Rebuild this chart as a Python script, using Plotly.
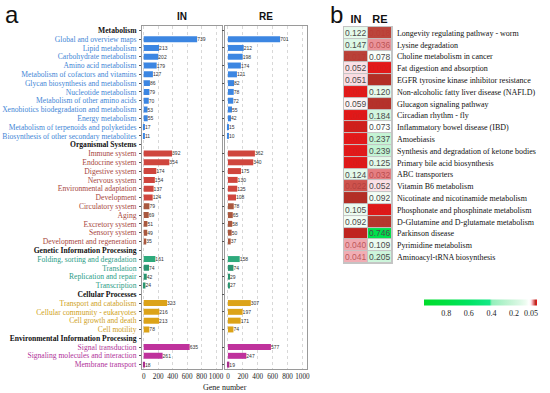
import plotly.graph_objects as go

# ---------------- Panel a data ----------------
met_terms = ["Global and overview maps", "Lipid metabolism", "Carbohydrate metabolism", "Amino acid metabolism",
             "Metabolism of cofactors and vitamins", "Glycan biosynthesis and metabolism", "Nucleotide metabolism",
             "Metabolism of other amino acids", "Xenobiotics biodegradation and metabolism", "Energy metabolism",
             "Metabolism of terpenoids and polyketides", "Biosynthesis of other secondary metabolites"]
met_in = [739, 213, 202, 179, 127, 86, 79, 70, 53, 55, 17, 11]
met_re = [701, 212, 198, 174, 121, 82, 78, 72, 55, 42, 15, 10]

org_terms = ["Immune system", "Endocrine system", "Digestive system", "Nervous system", "Environmental adaptation",
             "Development", "Circulatory system", "Aging", "Excretory system", "Sensory system",
             "Development and regeneration"]
org_in = [392, 354, 174, 154, 137, 124, 79, 69, 51, 49, 35]
org_re = [362, 340, 175, 130, 125, 108, 78, 65, 58, 50, 37]

gen_terms = ["Folding, sorting and degradation", "Translation", "Replication and repair", "Transcription"]
gen_in = [161, 74, 42, 24]
gen_re = [158, 74, 29, 27]

cel_terms = ["Transport and catabolism", "Cellular community - eukaryotes", "Cell growth and death", "Cell motility"]
cel_in = [323, 216, 213, 78]
cel_re = [307, 197, 171, 74]

env_terms = ["Signal transduction", "Signaling molecules and interaction", "Membrane transport"]
env_in = [635, 261, 18]
env_re = [577, 247, 19]

group_names = ["Metabolism", "Organismal Systems", "Genetic Information Processing",
               "Cellular Processes", "Environmental Information Processing"]

# ---------------- Panel b data ----------------
kegg_terms = ["Longevity regulating pathway - worm", "Lysine degradation", "Choline metabolism in cancer",
              "Fat digestion and absorption", "EGFR tyrosine kinase inhibitor resistance",
              "Non-alcoholic fatty liver disease (NAFLD)", "Glucagon signaling pathway", "Circadian rhythm - fly",
              "Inflammatory bowel disease (IBD)", "Amoebiasis", "Synthesis and degradation of ketone bodies",
              "Primary bile acid biosynthesis", "ABC transporters", "Vitamin B6 metabolism",
              "Nicotinate and nicotinamide metabolism", "Phosphonate and phosphinate metabolism",
              "D-Glutamine and D-glutamate metabolism", "Parkinson disease", "Pyrimidine metabolism",
              "Aminoacyl-tRNA biosynthesis"]
p_in = [0.122, 0.147, 0.017, 0.052, 0.051, 0.004, 0.059, 0.005, 0.008, 0.003,
        0.004, 0.005, 0.124, 0.022, 0.013, 0.105, 0.092, 0.010, 0.040, 0.041]
p_re = [0.018, 0.036, 0.078, 0.004, 0.013, 0.120, 0.014, 0.184, 0.073, 0.237,
        0.239, 0.125, 0.032, 0.052, 0.092, 0.006, 0.015, 0.746, 0.109, 0.205]
cb_ticks = [0.8, 0.6, 0.4, 0.2, 0.05]

# ---------------- styles ----------------
SERIF = "Liberation Serif"
SANS = "Liberation Sans"
group_text_col = ["#3f86d6", "#a84840", "#2b9c86", "#cf9f1c", "#b0339a"]
group_bar_col = ["#3c86e2", "#cf463e", "#2eaa7c", "#dca318", "#bf329c"]
small_col = ["#3472d6", "#a9583f", "#2a9470", "#d29a14", "#a8308e"]

groups = [(met_terms, met_in, met_re), (org_terms, org_in, org_re), (gen_terms, gen_in, gen_re),
          (cel_terms, cel_in, cel_re), (env_terms, env_in, env_re)]

rows, ticktext = [], []
for gi, (terms, _, _) in enumerate(groups):
    rows.append(group_names[gi])
    ticktext.append("<b>%s</b>" % group_names[gi])
    for t in terms:
        rows.append(t)
        ticktext.append('<span style="color:%s">%s</span>' % (group_text_col[gi], t))

fig = go.Figure()
for gi, (terms, vin, vre) in enumerate(groups):
    for vals, xa, ya in ((vin, "x", "y"), (vre, "x2", "y2")):
        cols = [group_bar_col[gi] if (v >= 100 or gi in (0, 3)) else small_col[gi] for v in vals]
        fig.add_trace(go.Bar(
            x=vals, y=terms, orientation="h", xaxis=xa, yaxis=ya,
            marker=dict(color=cols, line=dict(width=0)),
            text=[str(v) for v in vals], textposition="outside", constraintext="none",
            cliponaxis=False, textfont=dict(size=5, family=SANS, color="#333"),
            showlegend=False, width=0.68))

# heatmap colour scale (defined in p-value space, mapped to -p)
p_stops = [(1.0, "#00dc2c"), (0.8, "#00e042"), (0.6, "#00e462"), (0.42, "#14e886"),
           (0.40, "#92efba"), (0.25, "#c0f3d2"), (0.15, "#dcf8e5"), (0.10, "#eefcf1"),
           (0.07, "#ffffff"), (0.055, "#fdeef2"), (0.045, "#f6c2ca"), (0.035, "#e98d92"),
           (0.025, "#dd5c5a"), (0.018, "#bb463c"), (0.012, "#b02a22"), (0.006, "#e01818"),
           (0.0, "#e81a1a")]
cscale = sorted([(1 - p, c) for p, c in p_stops])

z = [[-a, -b] for a, b in zip(p_in, p_re)]
fig.add_trace(go.Heatmap(
    z=z, x=["IN", "RE"], y=kegg_terms, xaxis="x3", yaxis="y3",
    colorscale=cscale, zmin=-1, zmax=0, xgap=1, ygap=1, showscale=True, hoverinfo="skip",
    colorbar=dict(orientation="h", x=0.873, xanchor="center", y=0.219, yanchor="middle",
                  len=0.205, lenmode="fraction", thickness=6, outlinewidth=0, ticks="",
                  xpad=0, ypad=0, tickangle=0,
                  tickvals=[-t for t in cb_ticks], ticktext=[("%g" % t) for t in cb_ticks],
                  tickfont=dict(family=SERIF, size=8, color="#222"))))

annotations = []
for term, a, b in zip(kegg_terms, p_in, p_re):
    for col, p in (("IN", a), ("RE", b)):
        if p >= 0.05:
            tc = "#4a4a4a"
        elif p >= 0.02:
            tc = "rgba(170,60,60,0.75)"
        else:
            tc = "rgba(190,40,40,0.35)"
        annotations.append(dict(x=col, y=term, xref="x3", yref="y3", text="%.3f" % p, showarrow=False,
                                font=dict(family=SANS, size=8.5, color=tc)))

annotations += [
    dict(x=0.331, y=0.957, xref="paper", yref="paper", text="<b>IN</b>", showarrow=False,
         xanchor="center", yanchor="middle", font=dict(family=SANS, size=10, color="#111")),
    dict(x=0.4835, y=0.957, xref="paper", yref="paper", text="<b>RE</b>", showarrow=False,
         xanchor="center", yanchor="middle", font=dict(family=SANS, size=10, color="#111")),
    dict(x=0.409, y=0.015, xref="paper", yref="paper", text="Gene number", showarrow=False,
         xanchor="center", yanchor="middle", font=dict(family=SERIF, size=8, color="#222")),
    dict(x=0.022, y=0.963, xref="paper", yref="paper", text="a", showarrow=False,
         xanchor="center", yanchor="middle", font=dict(family=SANS, size=24, color="#111")),
    dict(x=0.612, y=0.963, xref="paper", yref="paper", text="b", showarrow=False,
         xanchor="center", yanchor="middle", font=dict(family=SANS, size=24, color="#111")),
]

xcommon = dict(tickvals=[0, 200, 400, 600, 800, 1000], showgrid=True,
               gridcolor="#d8d8d8", griddash="dot", gridwidth=0.6, zeroline=False,
               showline=True, mirror=True, linecolor="#9a9a9a", linewidth=0.8, ticks="",
               tickangle=0, automargin=False,
               tickfont=dict(family=SERIF, size=7.2, color="#222"), fixedrange=True)
ycommon = dict(type="category", categoryorder="array", categoryarray=rows,
               range=[len(rows) - 0.5, -0.5],
               domain=[0.061, 0.934], showline=True, mirror=True, linecolor="#9a9a9a", linewidth=0.8,
               ticks="outside", ticklen=2, tickcolor="#555", tickwidth=0.6, showgrid=False,
               automargin=False)

fig.update_layout(
    width=550, height=393, margin=dict(l=0, r=0, t=0, b=0, autoexpand=False),
    paper_bgcolor="white", plot_bgcolor="white", bargap=0.3,
    xaxis=dict(domain=[0.258, 0.404], anchor="y", range=[-25, 1085], **xcommon),
    xaxis2=dict(domain=[0.409, 0.558], anchor="y2", range=[-40, 1060], **xcommon),
    yaxis=dict(anchor="x", tickvals=rows, ticktext=ticktext, ticklabelstandoff=1,
               tickfont=dict(family=SERIF, size=7.6, color="#111"), **ycommon),
    yaxis2=dict(anchor="x2", showticklabels=False, **ycommon),
    xaxis3=dict(domain=[0.6236, 0.7145], anchor="y3", side="top", ticks="", showgrid=False,
                zeroline=False, showline=False, automargin=False,
                tickfont=dict(family=SANS, size=11, color="#111"),
                tickvals=["IN", "RE"], ticktext=["<b>IN</b>", "<b>RE</b>"]),
    yaxis3=dict(domain=[0.328, 0.934], anchor="x3", side="right", autorange="reversed",
                ticks="", showgrid=False, zeroline=False, showline=False, ticklabelstandoff=3,
                automargin=False,
                tickfont=dict(family=SERIF, size=8.0, color="#111")),
    annotations=annotations,
    shapes=[dict(type="rect", xref="x3 domain", yref="y3 domain", x0=0, x1=1, y0=0, y1=1,
                 fillcolor="#c4c4c4", line=dict(width=0), layer="below")],
)

fig.write_html("out.html", config={"displayModeBar": False},
               post_script="document.body.style.margin='0px';document.body.style.padding='0px';")
